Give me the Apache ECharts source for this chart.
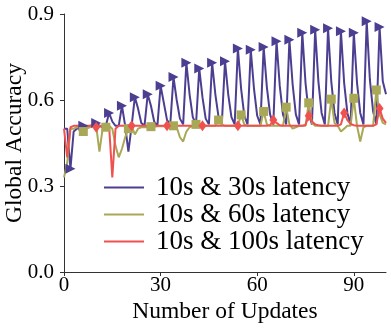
<!DOCTYPE html>
<html>
<head>
<meta charset="utf-8">
<script src="https://cdn.jsdelivr.net/npm/echarts@6/dist/echarts.min.js"></script>
<style>
    html, body { margin: 0; padding: 0; background: #fff; }
    #chart { width: 391px; height: 329px; }
</style>
</head>
<body>
<div id="chart"></div>
<script>
// x positions (number of updates)
const updates = [
    0, 1, 2, 3, 4, 5, 6, 7, 8, 9,
    10, 11, 12, 13, 14, 15, 16, 17, 18, 19,
    20, 21, 22, 23, 24, 25, 26, 27, 28, 29,
    30, 31, 32, 33, 34, 35, 36, 37, 38, 39,
    40, 41, 42, 43, 44, 45, 46, 47, 48, 49,
    50, 51, 52, 53, 54, 55, 56, 57, 58, 59,
    60, 61, 62, 63, 64, 65, 66, 67, 68, 69,
    70, 71, 72, 73, 74, 75, 76, 77, 78, 79,
    80, 81, 82, 83, 84, 85, 86, 87, 88, 89,
    90, 91, 92, 93, 94, 95, 96, 97, 98, 99,
    100,
];

// 10s & 30s latency
const lat30 = [
    0.50, 0.50, 0.36, 0.49, 0.50, 0.51, 0.51, 0.505, 0.51, 0.51,
    0.52, 0.51, 0.505, 0.51, 0.555, 0.525, 0.51, 0.51, 0.58, 0.51,
    0.42, 0.51, 0.61, 0.57, 0.52, 0.51, 0.62, 0.58, 0.525, 0.51,
    0.65, 0.59, 0.53, 0.515, 0.68, 0.60, 0.535, 0.515, 0.73, 0.62,
    0.54, 0.515, 0.71, 0.61, 0.535, 0.515, 0.73, 0.62, 0.54, 0.515,
    0.735, 0.62, 0.54, 0.515, 0.78, 0.64, 0.545, 0.515, 0.775, 0.64,
    0.545, 0.515, 0.785, 0.645, 0.55, 0.515, 0.805, 0.65, 0.55, 0.515,
    0.81, 0.655, 0.55, 0.515, 0.835, 0.66, 0.555, 0.515, 0.845, 0.665,
    0.555, 0.515, 0.85, 0.665, 0.555, 0.515, 0.84, 0.66, 0.555, 0.515,
    0.835, 0.66, 0.555, 0.515, 0.875, 0.67, 0.56, 0.515, 0.855, 0.665,
    0.62,
];

// 10s & 60s latency
const lat60 = [
    0.33, 0.38, 0.50, 0.50, 0.505, 0.505, 0.49, 0.50, 0.505, 0.51,
    0.51, 0.42, 0.50, 0.505, 0.51, 0.50, 0.44, 0.40, 0.43, 0.47,
    0.50, 0.51, 0.48, 0.50, 0.505, 0.505, 0.505, 0.507, 0.507, 0.508,
    0.508, 0.508, 0.509, 0.509, 0.51, 0.505, 0.47, 0.455, 0.49, 0.505,
    0.51, 0.515, 0.51, 0.505, 0.51, 0.51, 0.51, 0.51, 0.53, 0.515,
    0.51, 0.51, 0.51, 0.51, 0.51, 0.548, 0.515, 0.51, 0.51, 0.51,
    0.51, 0.51, 0.56, 0.515, 0.51, 0.51, 0.51, 0.51, 0.51, 0.575,
    0.515, 0.50, 0.505, 0.51, 0.51, 0.51, 0.59, 0.52, 0.51, 0.51,
    0.51, 0.51, 0.51, 0.603, 0.52, 0.51, 0.49, 0.50, 0.51, 0.51,
    0.606, 0.51, 0.455, 0.505, 0.51, 0.51, 0.51, 0.635, 0.55, 0.52,
    0.515,
];

// 10s & 100s latency
const lat100 = [
    0.50, 0.40, 0.505, 0.51, 0.51, 0.51, 0.51, 0.51, 0.51, 0.51,
    0.505, 0.51, 0.51, 0.51, 0.51, 0.33, 0.50, 0.51, 0.51, 0.51,
    0.51, 0.51, 0.51, 0.51, 0.51, 0.51, 0.51, 0.51, 0.51, 0.51,
    0.51, 0.51, 0.51, 0.51, 0.51, 0.51, 0.51, 0.51, 0.51, 0.51,
    0.51, 0.51, 0.51, 0.51, 0.51, 0.51, 0.51, 0.51, 0.51, 0.51,
    0.51, 0.51, 0.51, 0.51, 0.51, 0.51, 0.51, 0.51, 0.51, 0.51,
    0.51, 0.51, 0.51, 0.51, 0.512, 0.53, 0.52, 0.512, 0.51, 0.51,
    0.51, 0.51, 0.51, 0.51, 0.51, 0.513, 0.545, 0.525, 0.515, 0.512,
    0.51, 0.51, 0.51, 0.51, 0.51, 0.51, 0.515, 0.555, 0.53, 0.517,
    0.512, 0.51, 0.51, 0.51, 0.51, 0.51, 0.51, 0.515, 0.57, 0.535,
    0.52,
];

// where the markers sit
const marks30 = [2, 6, 10, 14, 18, 22, 26, 30, 34, 38, 42, 46, 50, 54, 58, 62, 66, 70, 74, 78, 82, 86, 90, 94, 98];
const marks60 = [6, 13, 20, 27, 34, 41, 48, 55, 62, 69, 76, 83, 90, 97];
const marks100 = [10, 21, 32, 43, 54, 65, 76, 87, 98];

const xTicks = [0, 30, 60, 90];
const seriesNames = ["10s & 30s latency", "10s & 60s latency", "10s & 100s latency"];

const chart = echarts.init(document.getElementById("chart"));

const makeSeries = (name, values, marks, color, symbol, size, rotate) => ({
    name: name,
    type: "line",
    data: updates.map((x, i) => [x, values[i]]),
    symbol: (val, params) => (marks.includes(params.dataIndex) ? symbol : "none"),
    symbolSize: size,
    symbolRotate: rotate,
    showAllSymbol: true,
    lineStyle: { color: color, width: 2 },
    itemStyle: { color: color },
    emphasis: { disabled: true },
    clip: true,
});

const font = "Liberation Serif";

const option = {
    animation: false,
    grid: { left: 64, right: 5, top: 14, bottom: 57, containLabel: false, outerBoundsMode: "none" },
    xAxis: {
        type: "value",
        min: 0,
        max: 100,
        name: "Number of Updates",
        nameLocation: "middle",
        nameGap: 28,
        nameMoveOverlap: false,
        nameTextStyle: { fontFamily: font, fontSize: 23.5, color: "#000" },
        axisLine: { lineStyle: { color: "#333", width: 1 } },
        axisTick: { show: true, length: 4, customValues: xTicks, lineStyle: { color: "#333" } },
        axisLabel: { customValues: xTicks, fontFamily: font, fontSize: 21, color: "#000", margin: 3 },
        splitLine: { show: false },
    },
    yAxis: {
        type: "value",
        min: 0,
        max: 0.9,
        interval: 0.3,
        name: "Global Accuracy",
        nameLocation: "middle",
        nameGap: 37,
        nameMoveOverlap: false,
        nameTextStyle: { fontFamily: font, fontSize: 23.5, color: "#000" },
        axisLine: { show: true, lineStyle: { color: "#333", width: 1 } },
        axisTick: { show: true, length: 4, lineStyle: { color: "#333" } },
        axisLabel: {
            fontFamily: font,
            fontSize: 21,
            color: "#000",
            margin: 10,
            formatter: (v) => v.toFixed(1),
        },
        splitLine: { show: false },
    },
    legend: {
        orient: "vertical",
        left: 104,
        top: 174,
        padding: 0,
        itemGap: 0,
        itemWidth: 40,
        itemHeight: 2,
        icon: "rect",
        textStyle: { fontFamily: font, fontSize: 27, color: "#000", padding: [0, 0, 0, 7], lineHeight: 26.5 },
        data: seriesNames,
    },
    series: [
        makeSeries(seriesNames[0], lat30, marks30, "#4c3f91", "triangle", 10, -90),
        makeSeries(seriesNames[1], lat60, marks60, "#a9a857", "rect", 9, 0),
        makeSeries(seriesNames[2], lat100, marks100, "#f0514f", "diamond", [8, 11], 0),
    ],
};

chart.setOption(option);
</script>
</body>
</html>
